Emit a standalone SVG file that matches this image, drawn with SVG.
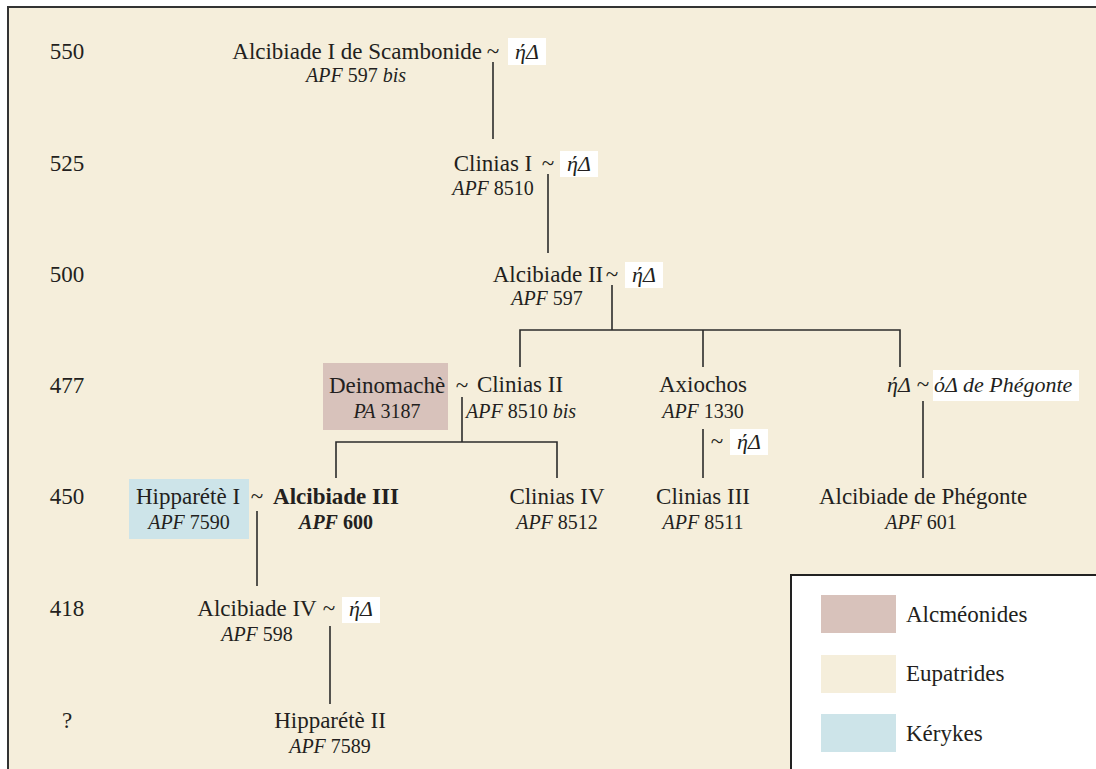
<svg xmlns="http://www.w3.org/2000/svg" width="1096" height="769" viewBox="0 0 1096 769">
<style>
text{font-family:"Liberation Serif","Times New Roman",serif;fill:#231f20;}
.n{font-size:23px;text-anchor:middle;}
.s{font-size:20px;text-anchor:middle;}
.i{font-style:italic;}
.b{font-weight:bold;}
.y{font-size:23px;text-anchor:middle;}
.g{font-size:22px;font-style:italic;text-anchor:middle;}
.gb{fill:#ffffff;}
.c{fill:none;stroke:#2b2b2b;stroke-width:1.6;}
.lg{font-size:23px;}
</style>
<rect x="0" y="0" width="1096" height="769" fill="#ffffff"/>
<rect x="8" y="7" width="1100" height="800" fill="#f5eedb" stroke="#333333" stroke-width="2"/>

<g id="years">
<text class="y" x="67" y="59">550</text>
<text class="y" x="67" y="171">525</text>
<text class="y" x="67" y="282">500</text>
<text class="y" x="67" y="393">477</text>
<text class="y" x="67" y="504">450</text>
<text class="y" x="67" y="616">418</text>
<text class="y" x="67" y="728">?</text>
</g>

<g id="connectors">
<path class="c" d="M493,62V139"/>
<path class="c" d="M548,174V253"/>
<path class="c" d="M612,285V330"/>
<path class="c" d="M520,367V330H900V367"/>
<path class="c" d="M703,330V367"/>
<path class="c" d="M462,397V442"/>
<path class="c" d="M336,478V442H557V478"/>
<path class="c" d="M703,429V478"/>
<path class="c" d="M923,401V478"/>
<path class="c" d="M257,511V586"/>
<path class="c" d="M330,626V704"/>
</g>

<g id="alcibiade1">
<text class="n" x="355" y="59" style="text-anchor:end" transform="translate(127,0)">Alcibiade I de Scambonide</text>
<text class="n" x="493" y="59">~</text>
<text class="s" x="356" y="82"><tspan class="i">APF</tspan> 597 <tspan class="i">bis</tspan></text>
<rect class="gb" x="508" y="38" width="38" height="27"/>
<text class="g" x="527" y="59">ήΔ</text>
</g>

<g id="clinias1">
<text class="n" x="493" y="171">Clinias I</text>
<text class="n" x="548" y="171">~</text>
<text class="s" x="493" y="195"><tspan class="i">APF</tspan> 8510</text>
<rect class="gb" x="560" y="151" width="38" height="26"/>
<text class="g" x="579" y="171">ήΔ</text>
</g>

<g id="alcibiade2">
<text class="n" x="548" y="282">Alcibiade II</text>
<text class="n" x="612" y="282">~</text>
<text class="s" x="547" y="305"><tspan class="i">APF</tspan> 597</text>
<rect class="gb" x="625" y="262" width="38" height="26"/>
<text class="g" x="644" y="282">ήΔ</text>
</g>

<g id="deinomache">
<rect x="323" y="363" width="125" height="67" fill="#d8c2bb"/>
<text class="n" x="387" y="393">Deinomachè</text>
<text class="s" x="387" y="418"><tspan class="i">PA</tspan> 3187</text>
</g>

<g id="clinias2">
<text class="n" x="462" y="393">~</text>
<text class="n" x="520" y="392">Clinias II</text>
<text class="s" x="521" y="418"><tspan class="i">APF</tspan> 8510 <tspan class="i">bis</tspan></text>
</g>

<g id="axiochos">
<text class="n" x="703" y="392">Axiochos</text>
<text class="s" x="703" y="418"><tspan class="i">APF</tspan> 1330</text>
<text class="n" x="717" y="449">~</text>
<rect class="gb" x="730" y="429" width="38" height="26"/>
<text class="g" x="749" y="449">ήΔ</text>
</g>

<g id="phegonte-parents">
<text class="g" x="899" y="392">ήΔ</text>
<text class="n" x="923" y="392">~</text>
<rect class="gb" x="933" y="370" width="146" height="31"/>
<text class="g" x="934" y="392" style="text-anchor:start">όΔ de Phégonte</text>
</g>

<g id="hippareté1">
<rect x="129" y="479" width="120" height="60" fill="#cde4e9"/>
<text class="n" x="188" y="504">Hipparétè I</text>
<text class="s" x="189" y="529"><tspan class="i">APF</tspan> 7590</text>
<text class="n" x="257" y="504">~</text>
</g>

<g id="alcibiade3">
<text class="n b" x="336" y="504">Alcibiade III</text>
<text class="s b" x="336" y="529"><tspan class="i">APF</tspan> 600</text>
</g>

<g id="clinias4">
<text class="n" x="557" y="504">Clinias IV</text>
<text class="s" x="557" y="529"><tspan class="i">APF</tspan> 8512</text>
</g>

<g id="clinias3">
<text class="n" x="703" y="504">Clinias III</text>
<text class="s" x="703" y="529"><tspan class="i">APF</tspan> 8511</text>
</g>

<g id="alcibiade-phegonte">
<text class="n" x="923" y="504">Alcibiade de Phégonte</text>
<text class="s" x="921" y="529"><tspan class="i">APF</tspan> 601</text>
</g>

<g id="alcibiade4">
<text class="n" x="257" y="616">Alcibiade IV</text>
<text class="n" x="329" y="616">~</text>
<text class="s" x="257" y="641"><tspan class="i">APF</tspan> 598</text>
<rect class="gb" x="342" y="597" width="38" height="26"/>
<text class="g" x="361" y="616">ήΔ</text>
</g>

<g id="hippareté2">
<text class="n" x="330" y="728">Hipparétè II</text>
<text class="s" x="330" y="753"><tspan class="i">APF</tspan> 7589</text>
</g>

<g id="legend">
<rect x="791" y="575" width="320" height="220" fill="#ffffff" stroke="#222222" stroke-width="2"/>
<rect x="821" y="595" width="75" height="38" fill="#d8c2bb"/>
<text class="lg" x="906" y="622">Alcméonides</text>
<rect x="821" y="655" width="75" height="38" fill="#f5eedb"/>
<text class="lg" x="906" y="681">Eupatrides</text>
<rect x="821" y="714" width="75" height="38" fill="#cde4e9"/>
<text class="lg" x="906" y="741">Kérykes</text>
</g>
</svg>
